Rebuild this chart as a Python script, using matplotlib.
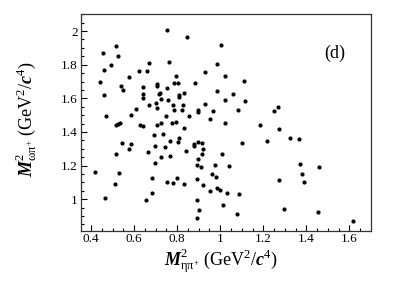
import matplotlib
matplotlib.use("Agg")
import matplotlib.pyplot as plt
from matplotlib.ticker import MultipleLocator

plt.rcParams['font.family'] = ['Liberation Serif', 'DejaVu Serif']
plt.rcParams['mathtext.fontset'] = 'custom'
plt.rcParams['mathtext.rm'] = 'Liberation Serif'
plt.rcParams['mathtext.it'] = 'Liberation Serif:italic'
plt.rcParams['mathtext.bf'] = 'Liberation Serif:bold'
plt.rcParams['mathtext.bfit'] = 'Liberation Serif:bold:italic'

# M^2(eta pi+) values
m2_etapi = [
    0.753, 0.517, 0.456, 0.527, 0.763, 0.669, 0.494, 0.458, 0.621, 0.658,
    0.796, 0.575, 0.440, 0.704, 0.708, 0.787, 0.802, 0.537, 0.639, 0.754,
    0.550, 0.722, 0.717, 0.639, 0.462, 0.807, 0.810, 0.639, 0.725, 0.759,
    0.700, 0.671, 0.781, 0.706, 0.607, 0.787, 0.584, 0.468, 0.746, 0.536,
    0.525, 0.517, 0.726, 0.796, 0.776, 0.627, 0.643, 0.704,
    0.692, 0.736, 0.808, 0.545, 0.586, 0.576, 0.767, 0.802, 0.695, 0.743,
    0.514, 0.663, 0.725, 0.769, 0.695, 0.417, 0.530, 0.684, 0.511, 0.755,
    0.779, 0.800, 0.683, 0.466, 0.655,
    0.844, 1.005, 0.987, 0.930, 1.023, 1.110, 0.883, 0.983, 1.060, 0.832,
    1.023, 1.117, 0.825, 0.927, 0.824, 0.898, 0.897, 0.968, 1.084, 0.855,
    0.952, 1.022, 1.187,
    0.833, 0.878, 0.879, 0.899, 0.915, 1.099, 1.219, 0.841, 0.921, 0.916,
    1.006, 0.895, 0.890, 0.909, 0.977, 1.042, 0.964, 0.980, 0.892, 0.834,
    0.920, 0.983, 0.997, 0.954, 1.031, 1.085, 0.890, 1.011, 0.903, 1.077,
    0.893,
    1.252, 1.268, 1.271, 1.323, 1.365, 1.371, 1.459, 1.382, 1.271, 1.391,
    1.297, 1.453, 1.617,
]

# M^2(omega pi+) values
m2_omegapi = [
    2.007, 1.914, 1.870, 1.852, 1.817, 1.809, 1.799, 1.769, 1.765, 1.765,
    1.733, 1.726, 1.696, 1.687, 1.676, 1.690, 1.693, 1.672, 1.666, 1.664,
    1.648, 1.634, 1.626, 1.626, 1.620, 1.618, 1.608, 1.602, 1.596, 1.592,
    1.573, 1.559, 1.561, 1.543, 1.537, 1.531, 1.503, 1.495, 1.497, 1.455,
    1.448, 1.442, 1.455, 1.461, 1.455, 1.442, 1.436, 1.440,
    1.380, 1.388, 1.364, 1.335, 1.327, 1.301, 1.348, 1.339, 1.317, 1.312,
    1.271, 1.281, 1.251, 1.259, 1.215, 1.162, 1.154, 1.126, 1.089, 1.104,
    1.098, 1.124, 1.039, 1.005, 0.997,
    1.965, 1.916, 1.805, 1.755, 1.731, 1.704, 1.692, 1.644, 1.626, 1.630,
    1.589, 1.586, 1.561, 1.565, 1.529, 1.529, 1.517, 1.525, 1.529, 1.493,
    1.479, 1.454, 1.443,
    1.426, 1.327, 1.315, 1.339, 1.335, 1.335, 1.345, 1.287, 1.297, 1.267,
    1.269, 1.241, 1.202, 1.192, 1.205, 1.198, 1.150, 1.134, 1.120, 1.090,
    1.085, 1.067, 1.057, 1.047, 1.039, 1.029, 0.995, 0.967, 0.938, 0.914,
    0.890,
    1.525, 1.549, 1.420, 1.364, 1.360, 1.211, 1.190, 1.148, 1.112, 1.101,
    0.940, 0.922, 0.868,
]

x_ticks = [0.4, 0.6, 0.8, 1.0, 1.2, 1.4, 1.6]
x_ticklabels = ["0.4", "0.6", "0.8", "1", "1.2", "1.4", "1.6"]
y_ticks = [1.0, 1.2, 1.4, 1.6, 1.8, 2.0]
y_ticklabels = ["1", "1.2", "1.4", "1.6", "1.8", "2"]

fig = plt.figure(figsize=(4.03, 2.90), dpi=100)
ax = fig.add_axes([0.2003, 0.2045, 0.7196, 0.7462])

ax.scatter(m2_etapi, m2_omegapi, s=9, c='black', linewidths=0, zorder=3)

ax.set_xlim(0.352, 1.699)
ax.set_ylim(0.812, 2.1)
ax.set_xticks(x_ticks)
ax.set_xticklabels(x_ticklabels)
ax.set_yticks(y_ticks)
ax.set_yticklabels(y_ticklabels)
ax.xaxis.set_minor_locator(MultipleLocator(0.05))
ax.yaxis.set_minor_locator(MultipleLocator(0.05))
ax.tick_params(which='major', direction='in', length=4.3, width=0.8,
               labelsize=9.5, colors='black', pad=2)
ax.tick_params(which='minor', direction='in', length=2.2, width=0.8)
for sp in ax.spines.values():
    sp.set_linewidth(0.9)
    sp.set_color('#333333')

fig.text(0.547, 0.10,
         r"$\mathbfit{M}^{2}_{\mathrm{\eta\pi^{+}}}$ (GeV$^{2}$/$\mathbfit{c}^{4}$)",
         ha='center', va='center', fontsize=13)
fig.text(0.065, 0.59,
         r"$\mathbfit{M}^{2}_{\mathrm{\omega\pi^{+}}}$ (GeV$^{2}$/$\mathbfit{c}^{4}$)",
         ha='center', va='center', rotation=90, fontsize=13)
ax.text(0.877, 0.821, "(d)", transform=ax.transAxes, ha='center', va='center',
        fontsize=13)

fig.savefig("out.png", dpi=100)
